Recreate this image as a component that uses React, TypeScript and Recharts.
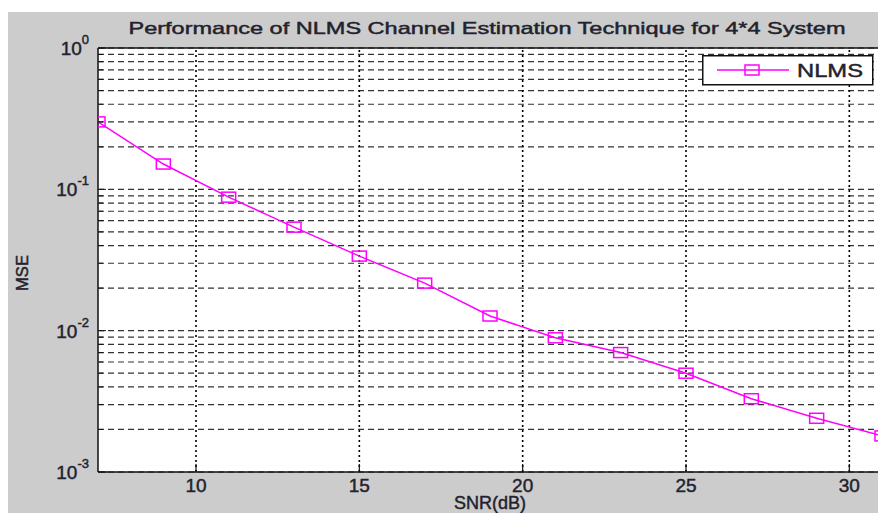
import { LineChart, Line, XAxis, YAxis, CartesianGrid, ReferenceLine, Label } from 'recharts'

// SNR in dB and the NLMS mean square error
const snr = [7, 9, 11, 13, 15, 17, 19, 21, 23, 25, 27, 29, 31]
const mse = [0.3, 0.151, 0.088, 0.054, 0.0337, 0.0217, 0.0127, 0.0089, 0.007, 0.005, 0.0033, 0.0024, 0.0018]

const xTicks = [10, 15, 20, 25, 30]
const decadeTicks = [0.001, 0.01, 0.1, 1]
const minorTicks = [
  0.002, 0.003, 0.004, 0.005, 0.006, 0.007, 0.008, 0.009,
  0.02, 0.03, 0.04, 0.05, 0.06, 0.07, 0.08, 0.09,
  0.2, 0.3, 0.4, 0.5, 0.6, 0.7, 0.8, 0.9,
]

const FONT = '"Liberation Sans", Arial, sans-serif'
const MAGENTA = '#ff00ff'
const TEXT = '#22222e'
// slight outline so the text reads as heavy as the blurry matlab export
const heavy = { stroke: TEXT, strokeWidth: 0.45 }

const data = snr.map((s, i) => ({ snr: s, mse: mse[i] }))
const yTicks = [...decadeTicks, ...minorTicks].sort((a, b) => a - b)

function YTick(props: any) {
  const { x, y, payload } = props
  const v = payload.value
  if (!decadeTicks.includes(v)) {
    // short minor tick inside the plot like matlab draws
    return <line x1={x + 9} x2={x + 13} y1={y} y2={y} stroke="#111" strokeWidth={1} />
  }
  const exp = Math.round(Math.log10(v))
  return (
    <g>
      <line x1={x + 9} x2={x + 16} y1={y} y2={y} stroke="#111" strokeWidth={1} />
      <text x={x - 1} y={y + 7} textAnchor="end" fontFamily={FONT} fill={TEXT} {...heavy}>
        <tspan fontSize={19}>10</tspan>
        <tspan fontSize={13} dy={-11}>{exp}</tspan>
      </text>
    </g>
  )
}

function XTick(props: any) {
  const { x, y, payload } = props
  return (
    <g>
      <line x1={x} x2={x} y1={y - 9} y2={y - 16} stroke="#111" strokeWidth={1.2} />
      <text x={x} y={y + 12} textAnchor="middle" fontSize={19} fontFamily={FONT} fill={TEXT} {...heavy}>
        {payload.value}
      </text>
    </g>
  )
}

function Square(props: any) {
  const { cx, cy, index } = props
  return (
    <rect
      key={`sq-${index}`}
      x={cx - 7}
      y={cy - 5}
      width={14}
      height={10}
      fill="none"
      stroke={MAGENTA}
      strokeWidth={1.5}
    />
  )
}

export default function App() {
  return (
    <div
      style={{
        position: 'fixed',
        left: 8,
        top: 12,
        width: 870,
        height: 501,
        overflow: 'hidden',
        background: '#cccccc',
      }}
    >
      <LineChart
        width={900}
        height={501}
        data={data}
        margin={{ top: 36, right: 26, bottom: 0, left: 0 }}
      >
        <CartesianGrid
          vertical={false}
          fill="#ffffff"
          fillOpacity={1}
          stroke="#333"
          strokeDasharray="6 4"
          strokeWidth={1.2}
        />
        {xTicks.map((t) => (
          <ReferenceLine key={t} x={t} stroke="#000" strokeDasharray="2 3" strokeWidth={1.6} />
        ))}
        <ReferenceLine y={1} stroke="#111" strokeWidth={1.5} />
        <XAxis
          dataKey="snr"
          type="number"
          domain={[7, 31]}
          ticks={xTicks}
          allowDataOverflow
          height={41}
          tickLine={false}
          axisLine={{ stroke: '#111', strokeWidth: 1.5 }}
          tick={<XTick />}
          interval={0}
        >
          <Label
            content={(p: any) => {
              const vb = p.viewBox
              return (
                <text
                  x={vb.x + vb.width / 2}
                  y={vb.y + vb.height - 4}
                  textAnchor="middle"
                  fontSize={18}
                  fill={TEXT}
                  fontFamily={FONT}
                  {...heavy}
                >
                  SNR(dB)
                </text>
              )
            }}
          />
        </XAxis>
        <YAxis
          type="number"
          scale="log"
          domain={[0.001, 1]}
          ticks={yTicks}
          allowDataOverflow
          width={90}
          tickLine={false}
          axisLine={{ stroke: '#111', strokeWidth: 1.5 }}
          tick={<YTick />}
          interval={0}
        >
          <Label
            content={(p: any) => {
              const vb = p.viewBox
              const cx = vb.x + 14
              const cy = vb.y + vb.height / 2 + 13
              return (
                <text
                  x={cx}
                  y={cy}
                  transform={`rotate(-90 ${cx} ${cy})`}
                  textAnchor="middle"
                  dominantBaseline="central"
                  fontSize={16}
                  fill={TEXT}
                  fontFamily={FONT}
                  textLength={36}
                  lengthAdjust="spacingAndGlyphs"
                  {...heavy}
                >
                  MSE
                </text>
              )
            }}
          />
        </YAxis>
        <Line
          dataKey="mse"
          stroke={MAGENTA}
          strokeWidth={1.5}
          dot={<Square />}
          activeDot={false}
          isAnimationActive={false}
        />
        <text
          x={479}
          y={22}
          textAnchor="middle"
          fontSize={17}
          fill={TEXT}
          fontFamily={FONT}
          textLength={717}
          lengthAdjust="spacingAndGlyphs"
          {...heavy}
        >
          Performance of NLMS Channel Estimation Technique for 4*4 System
        </text>
      </LineChart>
      <div style={{ position: 'absolute', left: 694, top: 43 }}>
        <svg width={172} height={31}>
          <rect x={0.75} y={0.75} width={170} height={29} fill="#fff" stroke="#111" strokeWidth={1.5} />
          <line x1={15} x2={87} y1={15} y2={15} stroke={MAGENTA} strokeWidth={1.5} />
          <rect x={43} y={10} width={14} height={10} fill="none" stroke={MAGENTA} strokeWidth={1.5} />
          <text
            x={95}
            y={22}
            fontSize={19}
            fill={TEXT}
            fontFamily={FONT}
            textLength={66}
            lengthAdjust="spacingAndGlyphs"
            {...heavy}
          >
            NLMS
          </text>
        </svg>
      </div>
    </div>
  )
}
